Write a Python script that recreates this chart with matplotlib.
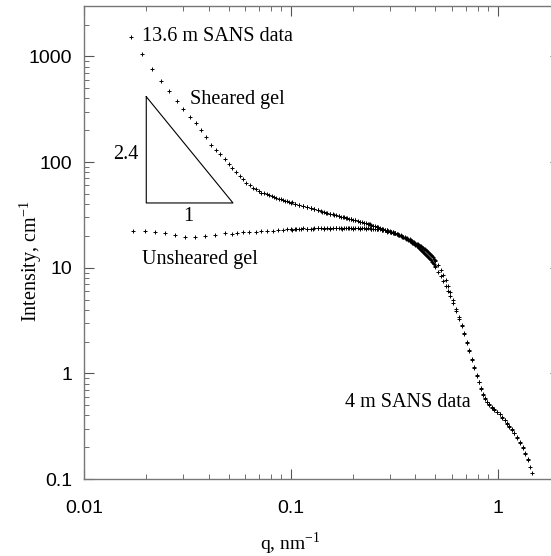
import numpy as np
import matplotlib
matplotlib.use("Agg")
import matplotlib.pyplot as plt

# 13.6 m detector, sheared gel
q_sheared_lo = [0.0169, 0.0191, 0.0213, 0.0236, 0.0258, 0.0280, 0.0302, 0.0324, 0.0346,
                0.0368, 0.0390, 0.0412, 0.0434, 0.0456, 0.0478, 0.0500, 0.0522, 0.0544,
                0.0566, 0.0588, 0.0610, 0.0632, 0.0654, 0.0676, 0.0698, 0.0720, 0.0742,
                0.0764, 0.0786, 0.0808, 0.0830, 0.0852, 0.0874, 0.0896, 0.0918, 0.0940,
                0.0962, 0.0984, 0.101, 0.105, 0.110, 0.115, 0.120, 0.125, 0.130, 0.136,
                0.142, 0.148, 0.155, 0.162, 0.170, 0.178, 0.186, 0.195, 0.205, 0.215,
                0.226, 0.238, 0.250, 0.262, 0.275, 0.290, 0.305, 0.320]
I_sheared_lo = [1514, 1045, 753, 580, 466, 380, 315, 268, 232,
                200, 172, 146, 130, 118, 106, 95, 87, 80,
                74, 69, 64, 60, 57, 55, 53, 51.5, 50.5,
                49.5, 48.5, 47.5, 46.5, 46, 45, 44.5, 44, 43,
                42.5, 42, 41.5, 40.5, 39.5, 38.5, 37.5, 36.5, 35.8, 35,
                34, 33.3, 32.5, 31.8, 31, 30.3, 29.5, 28.8, 28, 27.3,
                26.6, 25.8, 25, 24.3, 23.5, 22.7, 22, 21.3]

# 13.6 m detector, unsheared gel
q_unsheared_lo = [0.0172, 0.0197, 0.0220, 0.0246, 0.0275, 0.0307, 0.0344, 0.0384, 0.0430,
                  0.0480, 0.0520, 0.0550, 0.0590, 0.0630, 0.0680, 0.0720, 0.0770, 0.0820,
                  0.0870, 0.0920, 0.0960, 0.101, 0.106, 0.112, 0.120, 0.128, 0.136,
                  0.145, 0.155, 0.165, 0.176, 0.188, 0.200, 0.215, 0.230, 0.245,
                  0.260, 0.275, 0.290, 0.310]
I_unsheared_lo = [22.4, 22.4, 21.9, 21.4, 20.5, 19.5, 19.5, 20.0, 20.5,
                  21.4, 21.0, 21.4, 21.8, 22.0, 21.6, 22.2, 22.4, 22.3,
                  22.8, 22.6, 23.0, 22.9, 23.3, 23.1, 23.5, 23.3, 23.6,
                  23.4, 23.5, 23.7, 23.5, 23.6, 23.5, 23.4, 23.5, 23.2,
                  23.0, 22.6, 22.0, 21.5]

# 4 m detector, sheared gel
q_sheared_hi = [0.100, 0.105, 0.110, 0.115, 0.120, 0.125, 0.130, 0.135, 0.140, 0.145,
                0.150, 0.155, 0.160, 0.165, 0.170, 0.175, 0.180, 0.185, 0.190, 0.195,
                0.200, 0.205, 0.210, 0.215, 0.220, 0.225, 0.230, 0.235, 0.240, 0.245,
                0.250, 0.255, 0.260, 0.265, 0.270, 0.275, 0.280, 0.285, 0.290, 0.295,
                0.300, 0.305, 0.310, 0.315, 0.320, 0.325, 0.330, 0.335, 0.340, 0.345,
                0.350, 0.355, 0.360, 0.365, 0.370, 0.375, 0.380, 0.385, 0.390, 0.395,
                0.400, 0.405, 0.410, 0.415, 0.420, 0.425, 0.430, 0.435, 0.440, 0.445,
                0.450, 0.455, 0.460, 0.465, 0.470, 0.475, 0.480, 0.485, 0.490, 0.495,
                0.500, 0.515, 0.530, 0.545, 0.560, 0.575, 0.590, 0.610,
                0.630, 0.650, 0.670, 0.690, 0.710, 0.730, 0.750, 0.770, 0.790, 0.810,
                0.830, 0.850, 0.870, 0.890, 0.910, 0.935, 0.960, 0.990, 1.02, 1.05,
                1.08, 1.11, 1.14, 1.17, 1.20, 1.24, 1.28, 1.32, 1.36, 1.40, 1.44, 1.47]
I_sheared_hi = [41.0, 40.3, 39.5, 38.6, 37.6, 36.7, 35.9, 35.1, 34.4, 33.8,
                33.1, 32.5, 31.9, 31.4, 30.9, 30.4, 30.0, 29.6, 29.2, 28.8,
                28.4, 28.0, 27.7, 27.3, 27.0, 26.7, 26.4, 26.0, 25.7, 25.3,
                25.0, 24.7, 24.4, 24.1, 23.8, 23.5, 23.2, 22.9, 22.7, 22.4,
                22.2, 21.9, 21.7, 21.4, 21.2, 20.9, 20.6, 20.3, 20.0, 19.7,
                19.4, 19.1, 18.8, 18.5, 18.2, 17.9, 17.6, 17.3, 17.0, 16.6,
                16.3, 16.0, 15.7, 15.4, 15.1, 14.8, 14.5, 14.2, 13.9, 13.6,
                13.3, 13.0, 12.7, 12.4, 12.1, 11.7, 11.4, 11.1, 10.8, 10.4,
                10.1, 9.2, 8.3, 7.5, 6.7, 6.0, 5.4, 4.6,
                3.9, 3.3, 2.8, 2.35, 1.95, 1.62, 1.35, 1.12, 0.95, 0.82,
                0.71, 0.63, 0.57, 0.53, 0.50, 0.47, 0.45, 0.43, 0.41, 0.38,
                0.36, 0.33, 0.31, 0.29, 0.27, 0.245, 0.22, 0.195, 0.172, 0.150, 0.130, 0.115]

# 4 m detector, unsheared gel
q_unsheared_hi = [0.100, 0.105, 0.110, 0.115, 0.120, 0.125, 0.130, 0.135, 0.140, 0.145,
                  0.150, 0.155, 0.160, 0.165, 0.170, 0.175, 0.180, 0.185, 0.190, 0.195,
                  0.200, 0.205, 0.210, 0.215, 0.220, 0.225, 0.230, 0.235, 0.240, 0.245,
                  0.250, 0.255, 0.260, 0.265, 0.270, 0.275, 0.280, 0.285, 0.290, 0.295,
                  0.300, 0.305, 0.310, 0.315, 0.320, 0.325, 0.330, 0.335, 0.340, 0.345,
                  0.350, 0.355, 0.360, 0.365, 0.370, 0.375, 0.380, 0.385, 0.390, 0.395,
                  0.400, 0.405, 0.410, 0.415, 0.420, 0.425, 0.430, 0.435, 0.440, 0.445,
                  0.450, 0.455, 0.460, 0.465, 0.470, 0.475, 0.480, 0.485, 0.490, 0.495,
                  0.500, 0.515, 0.530, 0.545, 0.560, 0.575, 0.590, 0.610,
                  0.630, 0.650, 0.670, 0.690, 0.710, 0.730, 0.750, 0.770, 0.790, 0.810,
                  0.830, 0.850, 0.870, 0.890, 0.910, 0.935, 0.960, 0.990, 1.02, 1.05,
                  1.08, 1.11, 1.14, 1.17, 1.20, 1.24, 1.28, 1.32, 1.36, 1.40]
I_unsheared_hi = [23.2, 23.4, 23.3, 23.6, 23.5, 23.4, 23.7, 23.6, 23.8, 23.6,
                  23.7, 23.9, 23.8, 23.7, 24.0, 23.9, 23.9, 24.0, 24.0, 23.9,
                  23.8, 23.9, 23.9, 23.8, 23.8, 23.7, 23.7, 23.6, 23.6, 23.5,
                  23.4, 23.3, 23.2, 23.1, 23.0, 22.8, 22.7, 22.5, 22.4, 22.2,
                  22.0, 21.8, 21.6, 21.4, 21.2, 21.0, 20.7, 20.5, 20.2, 20.0,
                  19.7, 19.5, 19.2, 19.0, 18.7, 18.5, 18.2, 18.0, 17.7, 17.5,
                  17.2, 16.9, 16.7, 16.4, 16.1, 15.9, 15.6, 15.4, 15.1, 14.9,
                  14.6, 14.3, 14.0, 13.7, 13.4, 13.1, 12.8, 12.5, 12.2, 11.9,
                  11.6, 10.6, 9.6, 8.6, 7.6, 6.7, 5.9, 4.9,
                  4.1, 3.4, 2.85, 2.4, 2.0, 1.65, 1.37, 1.14, 0.96, 0.83,
                  0.72, 0.64, 0.58, 0.54, 0.51, 0.48, 0.455, 0.435, 0.415, 0.39,
                  0.365, 0.34, 0.315, 0.295, 0.275, 0.25, 0.225, 0.20, 0.176, 0.154]

# power-law guide
slope = 2.4
tri_q = [0.02, 0.0525]
tri_base = 41.0

serif = ["Liberation Serif", "DejaVu Serif"]
sans = ["Liberation Sans", "DejaVu Sans"]

fig = plt.figure(figsize=(5.51, 5.56), dpi=100)
ax = fig.add_axes([84 / 551, 77 / 556, (560 - 84) / 551, 473 / 556])

mk = dict(ls="none", marker="+", ms=3.0, mew=0.7, color="black")
ax.plot(q_sheared_lo, I_sheared_lo, **mk)
ax.plot(q_unsheared_lo, I_unsheared_lo, **mk)
ax.plot(q_sheared_hi, I_sheared_hi, **mk)
ax.plot(q_unsheared_hi, I_unsheared_hi, **mk)

tri_top = tri_base * (tri_q[1] / tri_q[0]) ** slope
ax.plot([tri_q[0], tri_q[0], tri_q[1], tri_q[0]],
        [tri_top, tri_base, tri_base, tri_top], color="black", lw=0.8)

ax.set_xscale("log")
ax.set_yscale("log")
ax.set_xlim(0.01, 2)
ax.set_ylim(0.1, 3000)

ax.set_xticks([0.01, 0.1, 1])
ax.set_xticklabels(["0.01", "0.1", "1"])
ax.set_yticks([0.1, 1, 10, 100, 1000])
ax.set_yticklabels(["0.1", "1", "10", "100", "1000"])
ax.tick_params(which="both", direction="in", top=True, right=True, color="#555555")
ax.tick_params(which="major", length=7, width=0.8, labelsize=14)
ax.tick_params(axis="x", which="major", pad=15)
ax.tick_params(axis="y", which="major", pad=8.5)
ax.tick_params(which="minor", length=3.5, width=0.6)
for lab in ax.get_xticklabels() + ax.get_yticklabels():
    lab.set_family(sans)
for sp in ax.spines.values():
    sp.set_color("#777777")
    sp.set_linewidth(1.0)

ax.set_xlabel("q, nm$^{\\mathregular{-1}}$", family=serif, fontsize=14)
ax.set_ylabel("Intensity, cm$^{\\mathregular{-1}}$", family=serif, fontsize=14.5)
ax.xaxis.set_label_coords(0.433, -0.108)
ax.yaxis.set_label_coords(-0.085, 0.46)

txt = dict(family=serif, fontsize=14.5, va="center")
ax.text(0.0191, 1550, "13.6 m SANS data", ha="left", **txt)
ax.text(0.0325, 391, "Sheared gel", ha="left", **txt)
ax.text(0.016, 118, "2.4", ha="center", **txt)
ax.text(0.0318, 30.4, "1", ha="center", **txt)
ax.text(0.0191, 11.9, "Unsheared gel", ha="left", **txt)
ax.text(0.182, 0.53, "4 m SANS data", ha="left", **txt)

fig.savefig("out.png", dpi=100)
